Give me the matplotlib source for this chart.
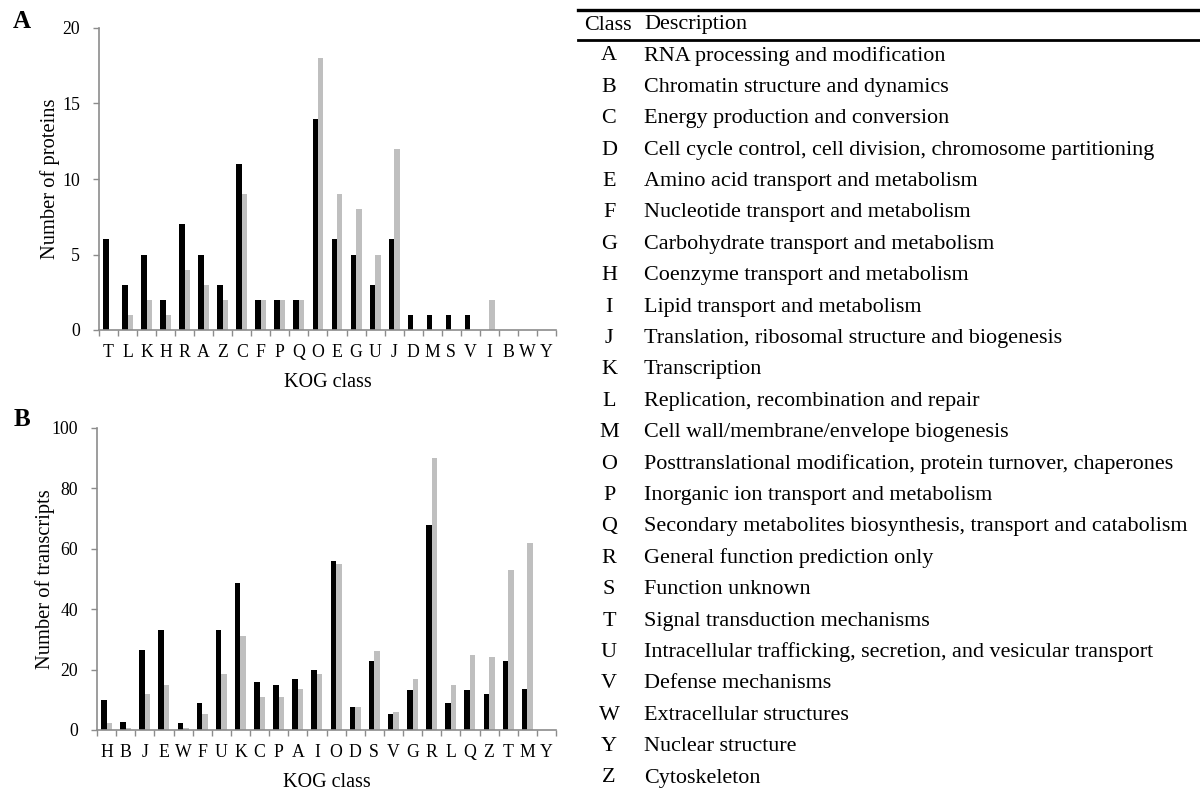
import matplotlib
matplotlib.use("Agg")
import matplotlib.pyplot as plt
import numpy as np
from matplotlib.lines import Line2D

plt.rcParams['font.family'] = ['Liberation Serif', 'DejaVu Serif']

# ---------------- data ----------------
cats_a = ["T", "L", "K", "H", "R", "A", "Z", "C", "F", "P", "Q", "O", "E", "G", "U",
          "J", "D", "M", "S", "V", "I", "B", "W", "Y"]
black_a = [6, 3, 5, 2, 7, 5, 3, 11, 2, 2, 2, 14, 6, 5, 3, 6, 1, 1, 1, 1, 0, 0, 0, 0]
grey_a = [0, 1, 2, 1, 4, 3, 2, 9, 2, 2, 2, 18, 9, 8, 5, 12, 0, 0, 0, 0, 2, 0, 0, 0]

cats_b = ["H", "B", "J", "E", "W", "F", "U", "K", "C", "P", "A", "I", "O", "D", "S",
          "V", "G", "R", "L", "Q", "Z", "T", "M", "Y"]
black_b = [10, 2.7, 26.6, 33, 2.2, 8.9, 33, 48.8, 16, 15, 16.9, 20, 56, 7.6, 23,
           5.2, 13.2, 67.8, 8.9, 13.2, 12, 23, 13.7, 0]
grey_b = [2.2, 0.8, 12, 15, 0.8, 5.2, 18.6, 31, 10.8, 10.8, 13.7, 18.6, 55, 7.6, 26,
          5.8, 16.9, 90, 15, 24.8, 24.3, 53, 61.9, 0]

classes = ["A", "B", "C", "D", "E", "F", "G", "H", "I", "J", "K", "L", "M", "O",
           "P", "Q", "R", "S", "T", "U", "V", "W", "Y", "Z"]
descriptions = [
    "RNA processing and modification",
    "Chromatin structure and dynamics",
    "Energy production and conversion",
    "Cell cycle control, cell division, chromosome partitioning",
    "Amino acid transport and metabolism",
    "Nucleotide transport and metabolism",
    "Carbohydrate transport and metabolism",
    "Coenzyme transport and metabolism",
    "Lipid transport and metabolism",
    "Translation, ribosomal structure and biogenesis",
    "Transcription",
    "Replication, recombination and repair",
    "Cell wall/membrane/envelope biogenesis",
    "Posttranslational modification, protein turnover, chaperones",
    "Inorganic ion transport and metabolism",
    "Secondary metabolites biosynthesis, transport and catabolism",
    "General function prediction only",
    "Function unknown",
    "Signal transduction mechanisms",
    "Intracellular trafficking, secretion, and vesicular transport",
    "Defense mechanisms",
    "Extracellular structures",
    "Nuclear structure",
    "Cytoskeleton",
]

W, H = 1200, 790
fig = plt.figure(figsize=(12, 7.9), dpi=100)

AXC = "#8c8c8c"
GREY = "#bfbfbf"
BW = 0.286


def px_rect(x0, y0, x1, y1):
    return [x0 / W, 1 - y1 / H, (x1 - x0) / W, (y1 - y0) / H]


def draw_panel(rect, cats, blk, gry, ymax, ystep, ylabel, letter, letter_y, ylab_x):
    ax = fig.add_axes(rect)
    x = np.arange(len(cats))
    ax.bar(x - BW / 2, blk, width=BW, color="black", linewidth=0)
    ax.bar(x + BW / 2, gry, width=BW, color=GREY, linewidth=0)
    ax.set_xlim(-0.5, len(cats) - 0.5)
    ax.set_ylim(0, ymax)
    ax.set_yticks(np.arange(0, ymax + 1, ystep))
    ax.set_xticks(x)
    ax.set_xticklabels(cats)
    ax.set_xticks(np.arange(-0.5, len(cats), 1.0), minor=True)
    ax.tick_params(axis="x", which="major", length=0, pad=10, labelsize=12.8)
    ax.tick_params(axis="x", which="minor", length=4.5, width=1, color=AXC, direction="out")
    ax.tick_params(axis="y", which="major", length=4.5, width=1, color=AXC, direction="out",
                   pad=9, labelsize=12.8)
    for s in ("top", "right"):
        ax.spines[s].set_visible(False)
    for s in ("left", "bottom"):
        ax.spines[s].set_color(AXC)
        ax.spines[s].set_linewidth(1.2)
    ax.set_xlabel("KOG class", fontsize=14.5, labelpad=9)
    ax.set_ylabel(ylabel, fontsize=14.8)
    ax.yaxis.set_label_coords((ylab_x - rect[0] * W) / (rect[2] * W), 0.5)
    fig.text(22 / W, 1 - letter_y / H, letter, fontsize=18, fontweight="bold",
             ha="center", va="center")
    return ax


draw_panel(px_rect(99, 28, 556, 330), cats_a, black_a, grey_a, 20, 5,
           "Number of proteins", "A", 21, 60)
draw_panel(px_rect(97, 428, 556, 730), cats_b, black_b, grey_b, 100, 20,
           "Number of transcripts", "B", 420, 55)

# ---------------- table ----------------
fig.add_artist(Line2D([578 / W, 1.0], [1 - 10 / H, 1 - 10 / H], color="black", linewidth=2.4,
                      transform=fig.transFigure))
fig.add_artist(Line2D([578 / W, 1.0], [1 - 40 / H, 1 - 40 / H], color="black", linewidth=2.0,
                      transform=fig.transFigure))
TFS = 15.9
fig.text(584 / W, 1 - 25 / H, "Class", fontsize=TFS, ha="left", va="center")
fig.text(644 / W, 1 - 25 / H, "Description", fontsize=TFS, ha="left", va="center")
y0, dy = 56, (778 - 56) / 23
for i, (c, d) in enumerate(zip(classes, descriptions)):
    yy = 1 - (y0 + i * dy) / H
    fig.text(609 / W, yy, c, fontsize=TFS, ha="center", va="center")
    fig.text(644 / W, yy, d, fontsize=TFS, ha="left", va="center")

fig.savefig("out.png", dpi=100)
